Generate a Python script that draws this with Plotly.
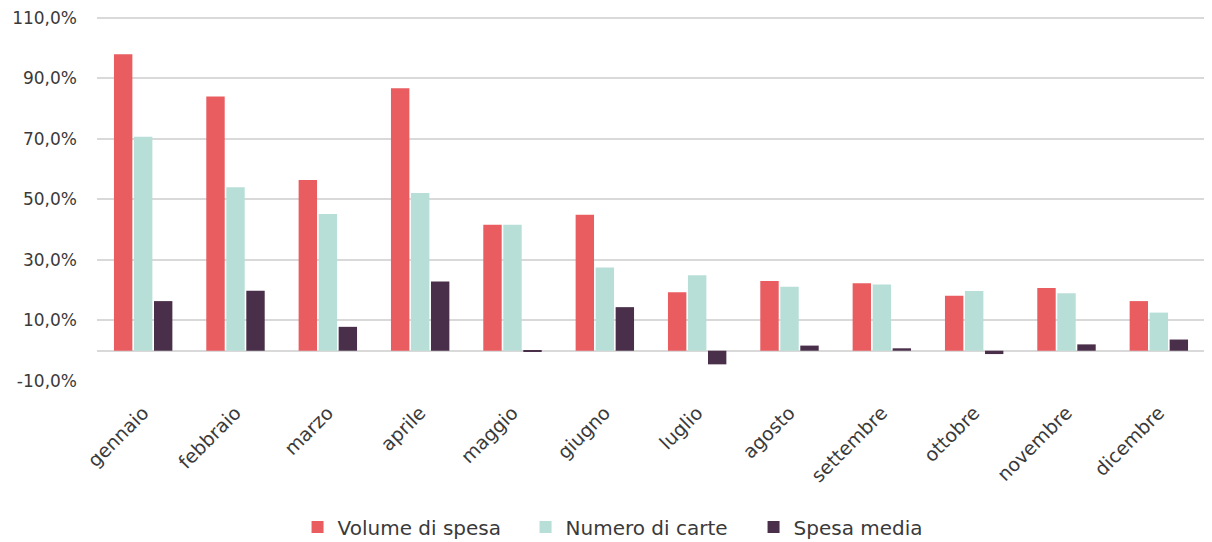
import plotly.graph_objects as go

mesi = ["gennaio", "febbraio", "marzo", "aprile", "maggio", "giugno",
        "luglio", "agosto", "settembre", "ottobre", "novembre", "dicembre"]
volume_spesa = [98.0, 84.0, 56.4, 86.7, 41.6, 44.9, 19.3, 23.0, 22.3, 18.2, 20.7, 16.4]
numero_carte = [70.7, 54.0, 45.2, 52.1, 41.6, 27.5, 24.9, 21.1, 21.9, 19.7, 19.0, 12.6]
spesa_media = [16.4, 19.8, 7.9, 22.9, -0.3, 14.4, -4.5, 1.7, 0.8, -1.1, 2.1, 3.7]
y_ticks = [-10, 10, 30, 50, 70, 90, 110]
y_ticktext = ["-10,0%", "10,0%", "30,0%", "50,0%", "70,0%", "90,0%", "110,0%"]

FONT = "DejaVu Sans"
TXT = "#3A3A3A"

fig = go.Figure()
fig.add_trace(go.Bar(x=mesi, y=volume_spesa, name="Volume di spesa",
                     marker=dict(color="#E95C60", line=dict(width=0))))
fig.add_trace(go.Bar(x=mesi, y=numero_carte, name="Numero di carte",
                     marker=dict(color="#B7DED7", line=dict(width=0))))
fig.add_trace(go.Bar(x=mesi, y=spesa_media, name="Spesa media",
                     marker=dict(color="#4A2F4A", line=dict(width=0))))

# page has an 8px body margin, so the figure is sized to fit the window
fig.update_layout(
    width=1204, height=534,
    margin=dict(l=89, r=7, t=8, b=161, autoexpand=False),
    paper_bgcolor="white", plot_bgcolor="white",
    barmode="group", bargap=0.35, bargroupgap=0.08,
    font=dict(family=FONT, size=18, color=TXT),
    showlegend=True,
    legend=dict(orientation="h", x=0.181, xanchor="left", y=-0.4, yanchor="middle",
                font=dict(family=FONT, size=20, color=TXT),
                itemwidth=30, traceorder="normal",
                entrywidth=183, entrywidthmode="pixels"),
    xaxis=dict(tickangle=-45, showgrid=False, showline=False, ticks="",
               automargin=False, ticklabelstandoff=16,
               tickfont=dict(family=FONT, size=19, color=TXT)),
    yaxis=dict(range=[-10, 110.6], tickvals=y_ticks, ticktext=y_ticktext,
               showgrid=True, gridcolor="#D9D9D9", gridwidth=2,
               zeroline=True, zerolinecolor="#D9D9D9", zerolinewidth=2,
               showline=False, ticks="", automargin=False, ticklabelstandoff=19,
               ticklabeloverflow="allow",
               tickfont=dict(family=FONT, size=17, color=TXT)),
)

fig.write_html("out.html")
